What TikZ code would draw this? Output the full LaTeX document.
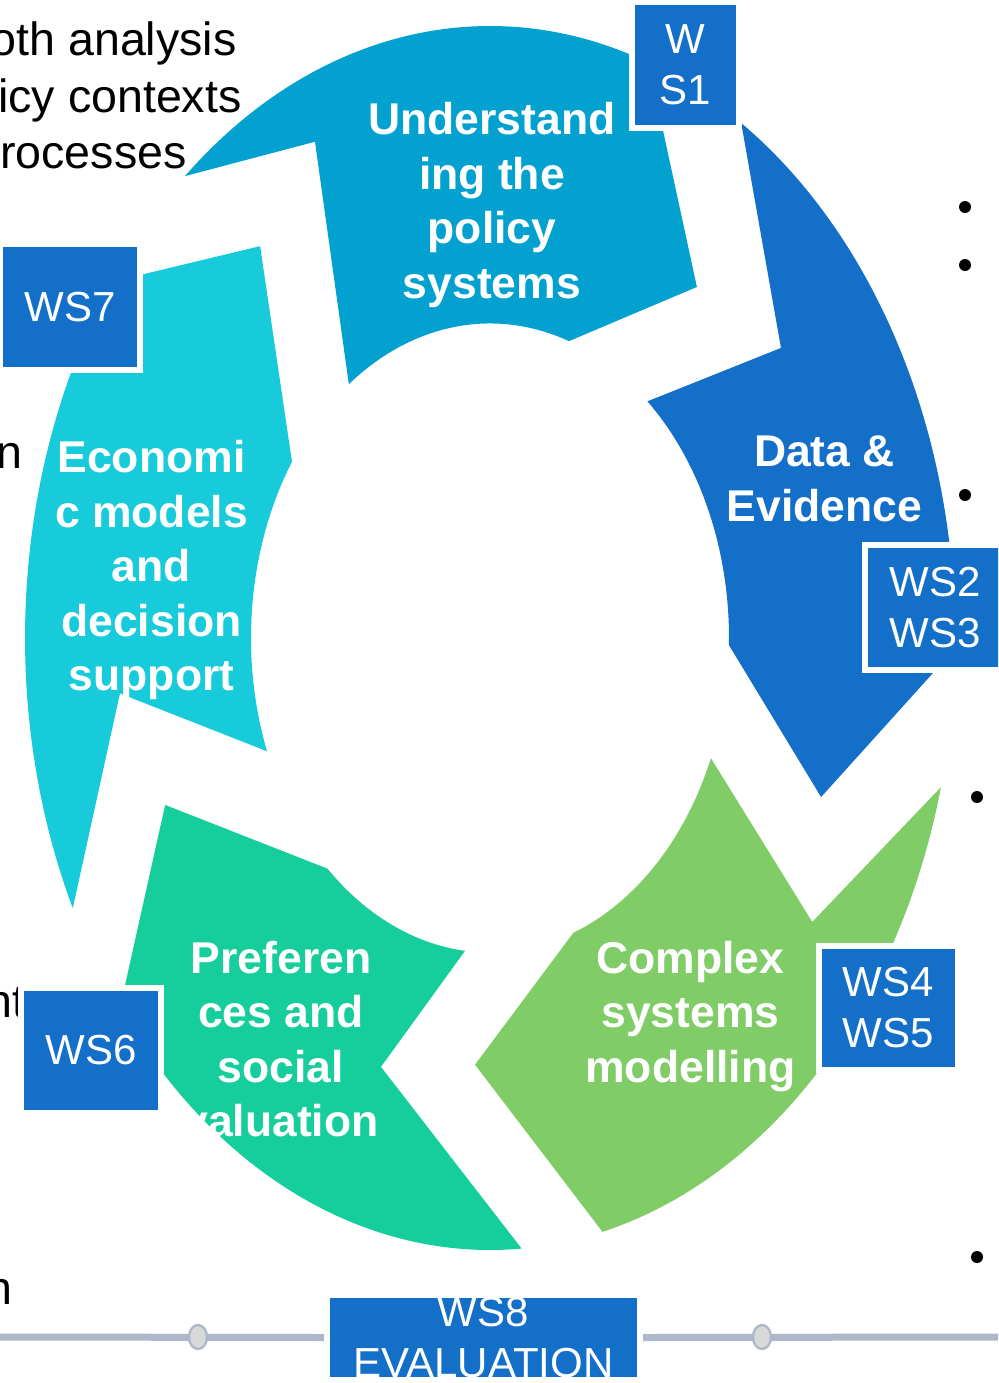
\documentclass[tikz,border=0pt]{standalone}
\usepackage{fontspec}
\setmainfont{Liberation Sans}
\usepackage{tikz}
\usetikzlibrary{shapes.geometric}

\definecolor{cycTop}{RGB}{3,161,207}
\definecolor{cycData}{RGB}{20,111,201}
\definecolor{cycComplex}{RGB}{128,204,102}
\definecolor{cycPref}{RGB}{21,206,155}
\definecolor{cycEcon}{RGB}{23,203,219}
\definecolor{wsBlue}{RGB}{20,111,201}
\definecolor{trackGrey}{RGB}{173,185,202}
\definecolor{knobGrey}{RGB}{217,217,217}

\begin{document}
\begin{tikzpicture}[
    x=0.5pt, y=-0.5pt,
    seglabel/.style={text=white, font=\bfseries\fontsize{22.25}{27.25}\selectfont, align=center, inner sep=0pt},
    wsbox/.style={draw=white, line width=3pt, fill=wsBlue, text=white, align=center, inner sep=0pt, font=\fontsize{21}{25.5}\selectfont},
    sidetext/.style={text=black, font=\fontsize{23.3}{28}\selectfont, inner sep=0pt, anchor=base east},
    track/.style={draw=trackGrey, line width=3.5pt},
    knob/.style={ellipse, draw=trackGrey, line width=1.2pt, fill=knobGrey, minimum width=9pt, minimum height=12pt, inner sep=0pt}
]
    \useasboundingbox (0,0) rectangle (998,1383);
    \clip (0,0) rectangle (998,1383);

    % Cycle segments (angles run clockwise from east, radius 1 = outer rim)
    \begin{scope}[shift={(490,638)}, x=232.5pt, y=-306pt]
        \fill[cycTop] (229:1) arc[start angle=229, end angle=289.9, radius=1]
            -- (307.8:0.726) -- (289.3:0.514)
            arc[start angle=289.3, end angle=233.8, radius=0.514]
            -- (245.1:0.894) -- cycle;
        \fill[cycData] (302.7:1) arc[start angle=302.7, end angle=361, radius=1]
            -- (380.05:0.758) -- (361.3:0.514)
            arc[start angle=361.3, end angle=311.2, radius=0.514]
            -- (322.86:0.785) -- cycle;
        \fill[cycComplex] (14.1:1) arc[start angle=14.1, end angle=76, radius=1]
            -- (92.65:0.698) -- (69.6:0.514)
            arc[start angle=69.6, end angle=22.45, radius=0.514]
            -- (33.8:0.834) -- cycle;
        \fill[cycPref] (86.1:1) arc[start angle=86.1, end angle=142.75, radius=1]
            -- (158.67:0.750) -- (132.84:0.514)
            arc[start angle=132.84, end angle=96, radius=0.514]
            -- (108.5:0.739) -- cycle;
        \fill[cycEcon] (153.8:1) arc[start angle=153.8, end angle=215.6, radius=1]
            -- (232.33:0.809) -- (214.06:0.514)
            arc[start angle=214.06, end angle=158.9, radius=0.514]
            -- (173.5:0.801) -- cycle;
    \end{scope}

    % Segment titles
    \node[seglabel] (understand) at (492,204.75) {Understand\\ing the\\policy\\systems};
    \node[seglabel] (data) at (824.5,478.75) {Data \&\\Evidence};
    \node[seglabel] (complex) at (690.5,1016.4) {Complex\\systems\\modelling};
    \node[seglabel] (prefs) at (281,1039.2) {Preferen\\ces and\\social\\valuation};
    \node[seglabel] (econ) at (151.5,570.3) {Economi\\c models\\and\\decision\\support};

    % Text running in from the side columns
    \node[sidetext] (sideA) at (237,55) {oth analysis};
    \node[sidetext] (sideB) at (242,112) {icy contexts};
    \node[sidetext] (sideC) at (187,168) {rocesses};
    \node[sidetext] (sideD) at (23,468) {n};
    \node[sidetext] (sideE) at (26,1017) {nt};
    \node[sidetext] (sideF) at (13,1304) {n};
    \foreach \bx/\by in {965/207, 965/265, 965/495, 977/797, 977/1257}
        \fill (\bx,\by) circle[radius=3pt];

    % Work stream boxes
    \node[wsbox, minimum width=53.5pt, minimum height=63pt] (ws1) at (685.5,65) {W\\S1};
    \node[wsbox, minimum width=70pt, minimum height=62.5pt] (ws23) at (935,607.5) {WS2\\WS3};
    \node[wsbox, minimum width=69.5pt, minimum height=62pt] (ws45) at (888.5,1008) {WS4\\WS5};
    \node[wsbox, minimum width=70pt, minimum height=62.5pt] (ws6) at (91,1050.5) {WS6};
    \node[wsbox, minimum width=70pt, minimum height=63pt] (ws7) at (70,307) {WS7};
    \node[wsbox, minimum width=156.5pt, minimum height=42.5pt] (ws8) at (483.5,1337.5) {WS8\\EVALUATION};

    % Timeline under the cycle
    \coordinate (trackL) at (0,1337);
    \coordinate (trackR) at (998,1337);
    \draw[track] (trackL) -- (ws8.west);
    \draw[track] (ws8.east) -- (trackR);
    \node[knob] (knobL) at (198,1337) {};
    \node[knob] (knobR) at (762,1337) {};

\end{tikzpicture}
\end{document}
